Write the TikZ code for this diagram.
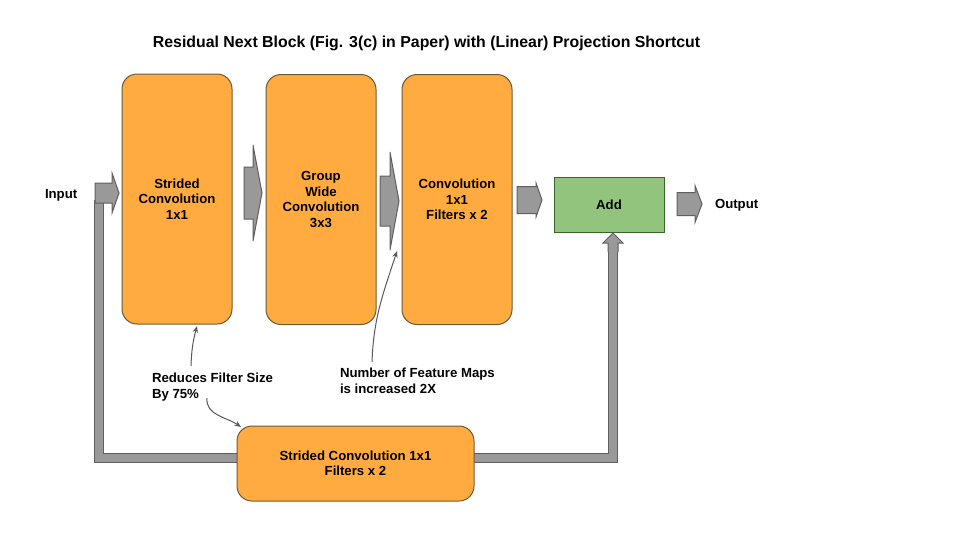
\documentclass[tikz,border=0pt]{standalone}
\usepackage{fontspec}
\setmainfont{Liberation Sans}
\usetikzlibrary{arrows.meta}
\definecolor{boxorange}{HTML}{FFAB40}
\definecolor{boxedge}{HTML}{6B5A3A}
\definecolor{addgreen}{HTML}{93C47D}
\definecolor{addedge}{HTML}{38662A}
\definecolor{arrgray}{HTML}{999999}
\definecolor{arredge}{HTML}{5F5F5F}
\definecolor{noteedge}{HTML}{595959}
\newcommand{\lblfont}{\fontsize{9.9pt}{11.6pt}\selectfont\bfseries}
\newcommand{\ttlfont}{\fontsize{11.9pt}{13pt}\selectfont\bfseries}
% block arrow: {x shaft start}{x tip}{x head base}{y centre}{shaft half}{head half}
\newcommand{\garrow}[6]{\draw[garr] (#1,#4-#5) -- (#3,#4-#5) -- (#3,#4-#6) -- (#2,#4)
  -- (#3,#4+#6) -- (#3,#4+#5) -- (#1,#4+#5) -- cycle;}

\begin{document}
\begin{tikzpicture}[x=0.75pt,y=-0.75pt,line join=miter,
  every node/.style={inner sep=0pt,outer sep=0pt},
  convbox/.style={draw=boxedge,fill=boxorange,line width=0.75pt,rounded corners=11.25pt,
    align=center,font=\lblfont,minimum width=82.5pt,minimum height=187.5pt},
  addbox/.style={draw=addedge,fill=addgreen,line width=0.75pt,font=\lblfont,
    minimum width=82.5pt,minimum height=41.25pt},
  garr/.style={draw=arredge,fill=arrgray,line width=0.75pt},
  skipline/.style={draw=arredge,double=arrgray,double distance=6pt,line width=0.75pt},
  note/.style={draw=noteedge,line width=0.75pt,-{Stealth[length=5pt,width=4pt]}}]
  \path[use as bounding box] (0,0) rectangle (960,540);  % canvas 960x540 px, 1 unit = 1 px
  % ---- title ----
  \node[font=\ttlfont] (title) at (426.5,43) {Residual Next Block (Fig. 3(c) in Paper) with (Linear) Projection Shortcut};
  % ---- shortcut path (under the boxes) ----
  \coordinate (skipA) at ( 98.5,200);
  \coordinate (skipB) at ( 98.5,458);
  \coordinate (skipC) at (613  ,458);
  \coordinate (skipD) at (613  ,250);
  \draw[skipline] (skipA) -- (skipB) -- (skipC) -- (skipD);
  % ---- boxes ----
  \node[convbox] (conv1) at (177,199)   {Strided\\Convolution\\1x1};
  \node[convbox] (conv2) at (321,199.5) {Group\\Wide\\Convolution\\3x3};
  \node[convbox] (conv3) at (457,199.5) {Convolution\\1x1\\Filters x 2};
  \node[addbox]  (add)   at (609,204.5) {Add};
  \node[convbox,minimum width=177.75pt,minimum height=56.25pt] (proj) at (355.5,463.5)
    {Strided Convolution 1x1\\Filters x 2};
  % ---- block arrows ----
  \garrow{95}{119}{112}{193}{10}{20}     % input
  \garrow{244}{262}{253}{193}{26}{48}    % conv1 -> conv2
  \garrow{380}{399}{390}{201}{25}{49}    % conv2 -> conv3
  \garrow{517}{542}{536}{200}{13.5}{17}  % conv3 -> add
  \garrow{677}{702}{695}{204}{11.5}{18.5}% add -> output
  % up arrow head into add (shaft is the shortcut line)
  \fill[arrgray] (608,252) -- (608,243) -- (603,243) -- (613,233) -- (623,243) -- (618,243) -- (618,252) -- cycle;
  \draw[arredge,line width=0.75pt] (608,252) -- (608,243) -- (603,243) -- (613,233) -- (623,243) -- (618,243) -- (618,252);
  % ---- labels ----
  \node[font=\lblfont,anchor=west] (inp) at (45,195) {Input};
  \node[font=\lblfont,anchor=west] (outp) at (715,205) {Output};
  \node[font=\lblfont,align=left,anchor=west] (reduce) at (152,387) {Reduces Filter Size\\By 75\%};
  \node[font=\lblfont,align=left,anchor=west] (maps) at (340,381) {Number of Feature Maps\\is increased 2X};
  % ---- note arrows ----
  \coordinate (r1s) at (191,366);
  \coordinate (r1e) at (197,326);
  \coordinate (r2s) at (207,398);
  \coordinate (r2e) at (241,427);
  \coordinate (m1s) at (372,362);
  \coordinate (m1e) at (397,251);
  \draw[note] (r1s) to[out=88,in=-105] (r1e);
  \draw[note] (r2s) to[out=-95,in=145] (r2e);
  \draw[note] (m1s) to[out=88,in=-108] (m1e);
\end{tikzpicture}
\end{document}
